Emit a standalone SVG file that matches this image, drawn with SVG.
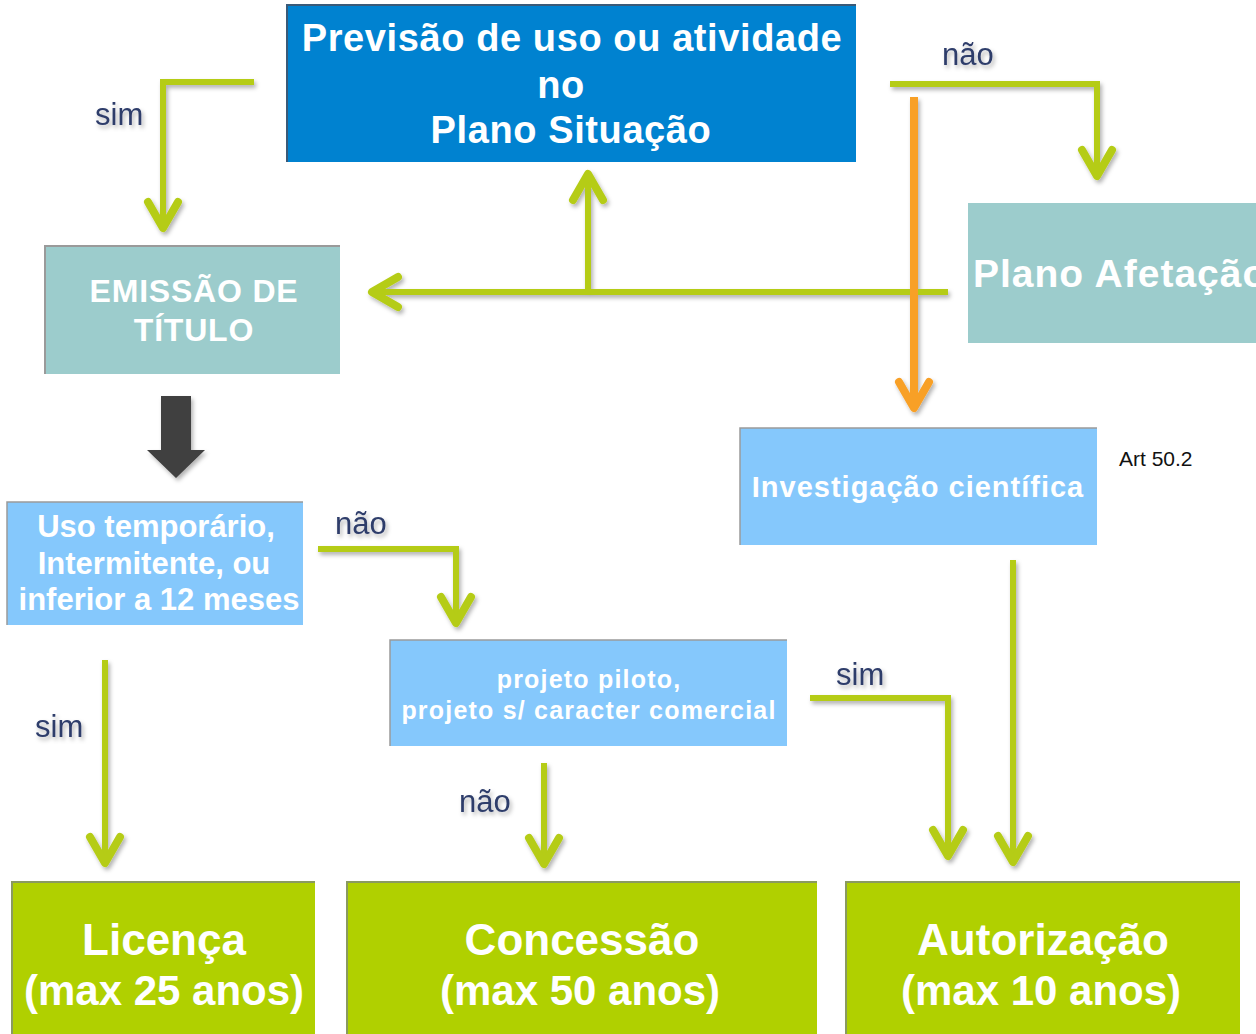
<svg xmlns="http://www.w3.org/2000/svg" width="1256" height="1034" viewBox="0 0 1256 1034">
<style>
.box text{font-family:"Liberation Sans",Arial,sans-serif;font-weight:bold;fill:#fff;text-anchor:middle}
.lbl{font-family:"Liberation Sans",Arial,sans-serif;font-size:31px;fill:#2E3D6B}
.g{fill:none;stroke:#B5CC18;stroke-width:6}
.o{fill:none;stroke:#F8A028;stroke-width:8}
</style>
<defs>
<filter id="sh" x="-10%" y="-10%" width="130%" height="130%"><feDropShadow dx="2" dy="3" stdDeviation="2" flood-opacity="0.3"/></filter>
<marker id="ag" viewBox="-34 -20 40 40" markerUnits="userSpaceOnUse" markerWidth="40" markerHeight="40" refX="0" refY="0" orient="auto"><path d="M-26,-15 L0,0 L-26,15" fill="none" stroke="#B5CC18" stroke-width="8" stroke-linecap="round" stroke-linejoin="round"/></marker>
<marker id="ao" viewBox="-34 -20 40 40" markerUnits="userSpaceOnUse" markerWidth="40" markerHeight="40" refX="0" refY="0" orient="auto"><path d="M-26,-15 L0,0 L-26,15" fill="none" stroke="#F8A028" stroke-width="8" stroke-linecap="round" stroke-linejoin="round"/></marker>
</defs>
<rect width="1256" height="1034" fill="#fff"/>

<g id="previsao" class="box">
<rect x="287" y="5" width="569" height="157" fill="#0082D0"/>
<path d="M287,162 V5 H856" fill="none" stroke="#3a5a78" stroke-width="2"/>
<text font-size="38" letter-spacing="0.6" x="572" y="51">Previsão de uso ou atividade</text>
<text font-size="38" letter-spacing="0.6" x="561" y="98">no</text>
<text font-size="38" letter-spacing="0.6" x="571" y="143">Plano Situação</text>
</g>

<g id="emissao" class="box">
<rect x="45" y="246" width="295" height="128" fill="#9CCCCC"/>
<path d="M45,374 V246 H340" fill="none" stroke="#9a9a9a" stroke-width="2"/>
<text font-size="32" letter-spacing="0.8" x="194" y="302">EMISSÃO DE</text>
<text font-size="32" letter-spacing="0.8" x="194" y="341">TÍTULO</text>
</g>

<g id="afetacao" class="box">
<rect x="968" y="203" width="290" height="140" fill="#9CCCCC"/>
<text font-size="39" letter-spacing="1" x="973" y="287" style="text-anchor:start">Plano Afetação</text>
</g>

<g id="investigacao" class="box">
<rect x="740" y="428" width="357" height="117" fill="#85C8FC"/>
<path d="M740,545 V428 H1097" fill="none" stroke="#9a9a9a" stroke-width="1.5"/>
<text font-size="29" letter-spacing="1" x="918" y="497">Investigação científica</text>
</g>

<g id="art"><text x="1119" y="466" font-family="'Liberation Sans',Arial,sans-serif" font-size="21" fill="#111">Art 50.2</text></g>

<g id="uso" class="box">
<rect x="7" y="502" width="296" height="123" fill="#85C8FC"/>
<path d="M7,625 V502 H303" fill="none" stroke="#9a9a9a" stroke-width="1.5"/>
<text font-size="31" x="156" y="537">Uso temporário,</text>
<text font-size="31" x="154" y="574">Intermitente, ou</text>
<text font-size="31" x="159" y="610">inferior a 12 meses</text>
</g>

<g id="piloto" class="box">
<rect x="390" y="640" width="397" height="106" fill="#85C8FC"/>
<path d="M390,746 V640 H787" fill="none" stroke="#9a9a9a" stroke-width="1.5"/>
<text font-size="25" letter-spacing="1.2" x="589" y="688">projeto piloto,</text>
<text font-size="25" letter-spacing="1.2" x="589" y="719">projeto s/ caracter comercial</text>
</g>

<g id="licenca" class="box">
<rect x="12" y="882" width="303" height="152" fill="#B0D000"/>
<path d="M12,1034 V882 H315" fill="none" stroke="#8a9a60" stroke-width="2"/>
<text font-size="44" x="164" y="955">Licença</text>
<text font-size="42" x="164" y="1005">(max 25 anos)</text>
</g>

<g id="concessao" class="box">
<rect x="347" y="882" width="470" height="152" fill="#B0D000"/>
<path d="M347,1034 V882 H817" fill="none" stroke="#8a9a60" stroke-width="2"/>
<text font-size="44" x="582" y="955">Concessão</text>
<text font-size="42" x="580" y="1005">(max 50 anos)</text>
</g>

<g id="autorizacao" class="box">
<rect x="846" y="882" width="394" height="152" fill="#B0D000"/>
<path d="M846,1034 V882 H1240" fill="none" stroke="#8a9a60" stroke-width="2"/>
<text font-size="44" x="1043" y="955">Autorização</text>
<text font-size="42" x="1041" y="1005">(max 10 anos)</text>
</g>

<g id="connectors" filter="url(#sh)">
<path class="g" d="M254,82 H163 V228" marker-end="url(#ag)"/>
<path class="g" d="M890,84 H1097 V176" marker-end="url(#ag)"/>
<path class="g" d="M948,292 H372" marker-end="url(#ag)"/>
<path class="g" d="M588,295 V174" marker-end="url(#ag)"/>
<path class="o" d="M914,97 V408" marker-end="url(#ao)"/>
<path class="g" d="M318,549 H456 V623" marker-end="url(#ag)"/>
<path class="g" d="M105,660 V863" marker-end="url(#ag)"/>
<path class="g" d="M544,763 V864" marker-end="url(#ag)"/>
<path class="g" d="M810,698 H948 V856" marker-end="url(#ag)"/>
<path class="g" d="M1013,560 V862" marker-end="url(#ag)"/>
<polygon points="161,396 191,396 191,450 205,450 176,478 147,450 161,450" fill="#404040"/>
<text class="lbl" x="95" y="125">sim</text>
<text class="lbl" x="942" y="65">não</text>
<text class="lbl" x="335" y="534">não</text>
<text class="lbl" x="35" y="737">sim</text>
<text class="lbl" x="459" y="812">não</text>
<text class="lbl" x="836" y="685">sim</text>
</g>
</svg>
